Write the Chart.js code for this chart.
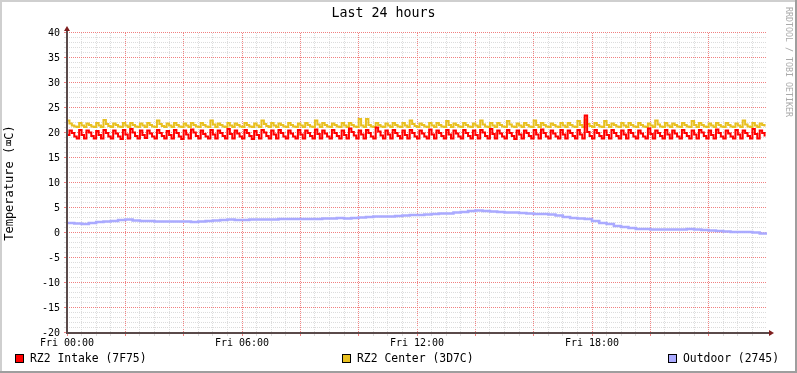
<!DOCTYPE html>
<html>
<head>
<meta charset="utf-8">
<script src="https://cdn.jsdelivr.net/npm/chart.js@4.4.1/dist/chart.umd.min.js"></script>
<style>
  html, body { margin: 0; padding: 0; background: #fff; }
  #wrap { width: 797px; height: 373px; }
</style>
</head>
<body>
<div id="wrap"><canvas id="tempChart" width="797" height="373"></canvas></div>
<script>
// 5 minute samples over the last 24 hours (288 each)
const intakeTemps = [
  19.6,20.5,20.0,19.3, 18.9,20.6,19.6, 18.9,20.5,20.1,19.4, 18.9,20.4,19.6, 18.9,20.6,20.0,19.3,
  18.9,20.5,19.9,19.3, 18.8,20.6,19.7, 18.9,20.8,20.1,19.4, 18.9,20.5,19.6, 19.0,20.5,19.9,19.3,
  18.9,20.6,20.0,19.4, 18.9,20.4,19.6, 18.9,20.6,20.0,19.3, 18.8,20.5,19.7, 18.9,20.7,20.1,19.4,
  18.9,20.5,19.8,19.3, 18.9,20.6,19.7, 18.9,20.5,20.0,19.4, 18.9,20.8,19.8, 18.9,20.5,19.9,19.3,
  18.9,20.6,20.0,19.4, 18.8,20.4,19.6, 18.9,20.6,20.1,19.4, 18.9,20.5,19.7, 18.9,20.6,20.0,19.3,
  18.9,20.5,19.9,19.3, 18.9,20.6,19.7, 18.9,20.5,20.0,19.4, 18.9,20.7,19.8, 18.9,20.5,19.9,19.3,
  18.9,20.6,20.0,19.4, 18.9,20.5,19.6, 18.9,20.9,20.2,19.5, 18.9,20.5,19.7, 18.9,20.6,20.0,19.3,
  18.9,21.1,20.3,19.5, 18.9,20.5,19.7, 18.9,20.6,20.0,19.4, 18.9,20.5,19.6, 18.9,20.6,20.0,19.3,
  18.9,20.5,19.9,19.3, 18.9,20.7,19.7, 18.9,20.5,20.0,19.4, 18.9,20.6,19.7, 18.9,20.5,19.9,19.3,
  18.9,20.6,20.0,19.4, 18.9,20.5,19.6, 18.9,20.6,20.1,19.4, 18.9,20.8,19.8, 18.9,20.5,19.9,19.3,
  18.9,20.6,20.0,19.4, 18.8,20.5,19.7, 18.9,20.5,20.0,19.4, 18.9,20.6,19.7, 18.9,20.7,20.0,19.3,
  18.9,20.5,19.9,19.3, 18.9,20.6,19.7, 18.9,20.5,20.0,19.4, 18.9,20.6,19.7, 18.9,23.5,20.2,19.4,
  18.9,20.6,20.0,19.4, 18.9,20.5,19.6, 18.9,20.6,20.0,19.4, 18.9,20.5,19.7, 18.9,20.6,20.0,19.3,
  18.9,20.5,19.9,19.3, 18.9,20.9,19.8, 18.9,20.5,20.0,19.4, 18.9,20.6,19.7, 18.9,20.5,19.9,19.3,
  18.9,20.6,20.0,19.4, 18.9,20.5,19.7, 18.9,20.6,20.1,19.4, 18.9,20.5,19.6, 18.9,20.7,20.0,19.3,
  18.9,20.5,19.9,19.3, 18.9,20.6,19.7, 18.9,20.5,20.0,19.4, 18.9,20.8,19.8, 18.9,20.5,20.0,19.3
];
const centerTemps = [
  22.5,21.9,21.5,21.3, 21.2,22.0,21.5, 21.2,21.9,21.6,21.3, 21.2,22.0,21.5, 21.2,22.6,21.8,21.4,
  21.2,21.9,21.6,21.3, 21.2,22.0,21.5, 21.2,22.0,21.6,21.3, 21.2,21.9,21.5, 21.2,22.0,21.6,21.3,
  21.2,22.5,21.8,21.4, 21.2,21.9,21.5, 21.2,22.0,21.6,21.3, 21.2,21.9,21.5, 21.2,22.0,21.6,21.3,
  21.2,22.0,21.6,21.3, 21.2,22.5,21.7, 21.2,21.9,21.6,21.3, 21.2,22.0,21.5, 21.2,21.9,21.6,21.3,
  21.2,22.0,21.6,21.3, 21.2,21.9,21.5, 21.2,22.5,21.8,21.4, 21.2,22.0,21.5, 21.2,21.9,21.6,21.3,
  21.2,22.0,21.6,21.3, 21.2,21.9,21.5, 21.2,22.0,21.6,21.3, 21.2,22.5,21.7, 21.2,22.0,21.6,21.3,
  21.2,21.9,21.6,21.3, 21.2,22.0,21.5, 21.2,22.0,21.6,21.3, 21.2,22.8,21.5, 21.2,22.8,21.6,21.3,
  21.2,22.0,21.6,21.3, 21.2,21.9,21.5, 21.2,22.0,21.6,21.3, 21.2,22.0,21.5, 21.2,22.5,21.8,21.4,
  21.2,21.9,21.6,21.3, 21.2,22.0,21.5, 21.2,22.0,21.6,21.3, 21.2,22.4,21.6, 21.2,21.9,21.6,21.3,
  21.2,22.0,21.6,21.3, 21.2,21.9,21.5, 21.2,22.5,21.7,21.3, 21.2,22.0,21.5, 21.2,22.0,21.6,21.3,
  21.2,22.4,21.7,21.3, 21.2,21.9,21.5, 21.2,22.0,21.6,21.3, 21.2,22.5,21.6, 21.2,22.0,21.6,21.3,
  21.2,21.9,21.6,21.3, 21.2,22.0,21.5, 21.2,22.0,21.6,21.3, 21.2,22.4,21.6, 21.2,22.7,21.8,21.4,
  21.2,22.0,21.6,21.3, 21.2,22.4,21.6, 21.2,21.9,21.6,21.3, 21.2,22.0,21.5, 21.2,22.0,21.6,21.3,
  21.2,22.0,21.6,21.3, 21.2,21.9,21.5, 21.2,22.5,21.7,21.3, 21.2,22.0,21.5, 21.2,21.9,21.6,21.3,
  21.2,22.0,21.6,21.3, 21.2,22.4,21.6, 21.2,22.0,21.6,21.3, 21.2,21.9,21.5, 21.2,22.0,21.6,21.3,
  21.2,22.0,21.6,21.3, 21.2,21.9,21.5, 21.2,22.5,21.7,21.3, 21.2,22.0,21.5, 21.2,21.9,21.6,21.3
];
// 15 minute samples (97)
const outdoorTemps = [
  2.0,1.9,1.8,2.0,2.2,2.3,2.4,2.6,2.7,2.5,
  2.4,2.4,2.3,2.3,2.3,2.3,2.3,2.2,2.3,2.4,
  2.5,2.6,2.7,2.6,2.6,2.7,2.7,2.7,2.7,2.8,
  2.8,2.8,2.8,2.8,2.8,2.9,2.9,3.0,2.9,3.0,
  3.1,3.2,3.3,3.3,3.3,3.4,3.5,3.6,3.6,3.7,
  3.8,3.9,3.9,4.1,4.2,4.4,4.5,4.4,4.3,4.2,
  4.1,4.1,4.0,3.9,3.8,3.8,3.7,3.5,3.2,3.0,
  2.9,2.8,2.4,2.0,1.8,1.4,1.2,1.0,0.8,0.8,
  0.7,0.7,0.7,0.7,0.7,0.8,0.7,0.6,0.5,0.4,
  0.3,0.2,0.2,0.2,0.1,-0.1,-0.2
];

const seriesNames = ['RZ2 Intake (7F75)', 'RZ2 Center (3D7C)', 'Outdoor (2745)'];
const seriesColors = ['#FF0000', '#E8C020', '#AAAAFF'];
const timeTickMinutes = [0, 360, 720, 1080];
const timeTickLabels = ['Fri 00:00', 'Fri 06:00', 'Fri 12:00', 'Fri 18:00'];

const MONO = '"DejaVu Sans Mono", monospace';
Chart.defaults.font.family = MONO;
Chart.defaults.color = '#000';

const minorGrid = '#DCDCDC';
const majorGrid = '#F08080';

function toPoints(values, stepMin) {
    return values.map((v, i) => ({ x: i * stepMin, y: v }));
}

// rrdtool look: shaded frame, axes with arrows, legend row, watermark
const rrdDecor = {
    id: 'rrdDecor',
    beforeDraw(chart) {
        const c = chart.ctx;
        const w = chart.width, h = chart.height;
        c.save();
        c.fillStyle = '#fff';
        c.fillRect(0, 0, w, h);
        c.fillStyle = '#CFCFCF';
        c.fillRect(0, 0, w, 2);
        c.fillRect(0, 0, 2, h);
        c.fillStyle = '#9E9E9E';
        c.fillRect(0, h - 2, w, 2);
        c.fillRect(w - 2, 0, 2, h);
        c.restore();
    },
    afterDraw(chart) {
        const c = chart.ctx;
        const area = chart.chartArea;
        c.save();

        // axes
        c.strokeStyle = '#5a4a4a';
        c.lineWidth = 2;
        c.beginPath();
        c.moveTo(area.left, area.bottom + 1);
        c.lineTo(area.left, area.top - 3);
        c.moveTo(area.left - 1, area.bottom);
        c.lineTo(area.right + 3, area.bottom);
        c.stroke();

        c.fillStyle = '#7F1F1F';
        c.beginPath();
        c.moveTo(area.left, area.top - 7);
        c.lineTo(area.left - 3, area.top - 2);
        c.lineTo(area.left + 3, area.top - 2);
        c.closePath();
        c.fill();
        c.beginPath();
        c.moveTo(area.right + 7, area.bottom);
        c.lineTo(area.right + 2, area.bottom - 3);
        c.lineTo(area.right + 2, area.bottom + 3);
        c.closePath();
        c.fill();

        // legend
        const legendX = [15, 342, 668];
        c.font = '11.4px ' + MONO;
        c.textBaseline = 'middle';
        c.textAlign = 'left';
        seriesNames.forEach((name, i) => {
            c.fillStyle = seriesColors[i];
            c.fillRect(legendX[i], 354, 9, 9);
            c.strokeStyle = '#000';
            c.lineWidth = 1;
            c.strokeRect(legendX[i] + 0.5, 354.5, 8, 8);
            c.fillStyle = '#000';
            c.fillText(name, legendX[i] + 15, 359);
        });

        // watermark
        c.translate(788, 7);
        c.rotate(Math.PI / 2);
        c.font = '8.3px ' + MONO;
        c.fillStyle = '#aaaaaa';
        c.textBaseline = 'middle';
        c.fillText('RRDTOOL / TOBI OETIKER', 0, 0);
        c.restore();
    }
};

const tempChart = new Chart(document.getElementById('tempChart').getContext('2d'), {
    type: 'line',
    data: {
        datasets: [
            { label: seriesNames[0], data: toPoints(intakeTemps, 5), borderColor: seriesColors[0] },
            { label: seriesNames[1], data: toPoints(centerTemps, 5), borderColor: seriesColors[1] },
            { label: seriesNames[2], data: toPoints(outdoorTemps, 15), borderColor: seriesColors[2], borderWidth: 2.5 }
        ]
    },
    options: {
        responsive: false,
        animation: false,
        devicePixelRatio: 1,
        layout: { padding: { left: 0, right: 30, top: 0, bottom: 0 } },
        elements: {
            point: { radius: 0 },
            line: { borderWidth: 2, tension: 0, stepped: true, fill: false }
        },
        plugins: {
            legend: { display: false },
            tooltip: { enabled: false },
            title: {
                display: true,
                text: 'Last 24 hours',
                font: { size: 13.3, weight: 'normal', lineHeight: 1.2, family: MONO },
                color: '#000',
                padding: { top: 6, bottom: 11 }
            }
        },
        scales: {
            x: {
                type: 'linear',
                min: 0,
                max: 1440,
                afterFit: scale => { scale.height = 40; },
                ticks: {
                    stepSize: 30,
                    autoSkip: false,
                    maxRotation: 0,
                    padding: 1,
                    font: { size: 10 },
                    callback: v => {
                        const k = timeTickMinutes.indexOf(v);
                        return k >= 0 ? timeTickLabels[k] : '';
                    }
                },
                grid: {
                    tickLength: 3,
                    color: ctx => {
                        const v = ctx.tick ? ctx.tick.value : 0;
                        if (v >= 1440) return 'rgba(0,0,0,0)';
                        return v % 120 === 0 ? majorGrid : minorGrid;
                    }
                },
                border: { display: false, dash: [1, 1] }
            },
            y: {
                min: -20,
                max: 40,
                afterFit: scale => { scale.width = 67; },
                ticks: {
                    stepSize: 1,
                    autoSkip: false,
                    padding: 4,
                    font: { size: 10 },
                    callback: v => (v % 5 === 0 ? String(v) : '')
                },
                grid: {
                    tickLength: 3,
                    color: ctx => {
                        const v = ctx.tick ? ctx.tick.value : 0;
                        return v % 5 === 0 ? majorGrid : minorGrid;
                    }
                },
                border: { display: false, dash: [1, 1] },
                title: {
                    display: true,
                    text: 'Temperature (⌧C)',
                    font: { size: 12, lineHeight: 1.2 },
                    padding: { top: 3, bottom: 0 }
                }
            }
        }
    },
    plugins: [rrdDecor]
});
</script>
</body>
</html>
